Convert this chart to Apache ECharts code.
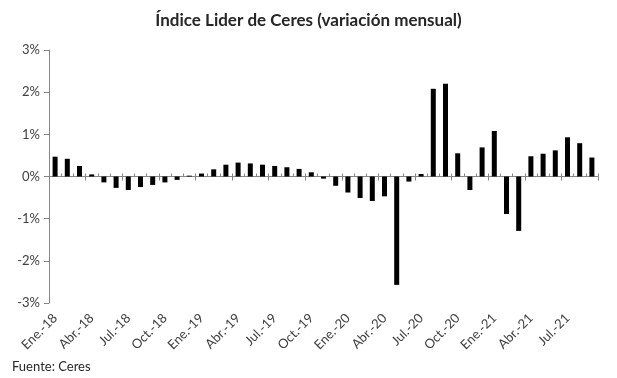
<!DOCTYPE html>
<html>
<head>
<meta charset="utf-8">
<script src="https://cdn.jsdelivr.net/npm/echarts@6/dist/echarts.min.js"></script>
<style>
  html, body { margin: 0; padding: 0; background: #fff; }
  #chart { width: 617px; height: 378px; }
</style>
</head>
<body>
<div id="chart"></div>
<script>
// meses Ene.-18 .. Sep.-21
var meses = ['Ene.', 'Feb.', 'Mar.', 'Abr.', 'May.', 'Jun.', 'Jul.', 'Ago.', 'Sep.', 'Oct.', 'Nov.', 'Dic.'];
var anios = ['18', '19', '20', '21'];
var categorias = [];
anios.forEach(function (a) {
  meses.forEach(function (m) { categorias.push(m + '-' + a); });
});
categorias = categorias.slice(0, 45);

// variación mensual (%)
var valores = [
  0.47, 0.42, 0.25, 0.05, -0.14, -0.27, -0.32, -0.25, -0.20, -0.14, -0.08, 0.02,
  0.07, 0.17, 0.28, 0.33, 0.31, 0.28, 0.25, 0.22, 0.18, 0.10, -0.05, -0.22,
  -0.38, -0.51, -0.58, -0.47, -2.57, -0.12, 0.06, 2.08, 2.20, 0.55, -0.32, 0.69,
  1.08, -0.89, -1.29, 0.48, 0.54, 0.62, 0.93, 0.79, 0.45
];

var ticksY = [-3, -2, -1, 0, 1, 2, 3];

var fuente = 'Lato, "Noto Sans", sans-serif';
var gris = '#868686';

var myChart = echarts.init(document.getElementById('chart'));
var option = {
  animation: false,
  textStyle: { fontFamily: fuente },
  title: {
    text: 'Índice Lider de Ceres (variación mensual)',
    left: 'center',
    top: 7,
    textStyle: { fontSize: 17, fontWeight: 'bold', color: '#262626', fontFamily: fuente }
  },
  graphic: [{
    type: 'text',
    left: 12,
    top: 360,
    style: { text: 'Fuente: Ceres', fontSize: 13, fill: '#262626', fontFamily: fuente }
  }],
  grid: { left: 49, right: 19, top: 50, bottom: 75 },
  xAxis: [
    {
      type: 'category',
      position: 'bottom',
      data: categorias,
      axisLine: { onZero: true, onZeroAxisIndex: 0, lineStyle: { color: gris, width: 1 } },
      axisTick: { show: true, inside: true, interval: 0, length: 3, lineStyle: { color: gris } },
      axisLabel: { show: false }
    },
    {
      type: 'category',
      position: 'bottom',
      data: categorias,
      axisLine: { show: false, onZero: true, onZeroAxisIndex: 0 },
      axisTick: { show: true, inside: false, interval: 2, length: 4, lineStyle: { color: gris } },
      axisLabel: { show: false }
    },
    {
      type: 'category',
      position: 'bottom',
      data: categorias,
      axisLine: { show: false, onZero: false },
      axisTick: { show: false },
      axisLabel: {
        interval: 2,
        rotate: 45,
        margin: 13,
        fontSize: 13,
        color: '#404040',
        fontFamily: fuente
      }
    }
  ],
  yAxis: {
    type: 'value',
    min: ticksY[0],
    max: ticksY[ticksY.length - 1],
    interval: 1,
    axisLine: { show: true, lineStyle: { color: gris } },
    axisTick: { show: true, length: 5, lineStyle: { color: gris } },
    splitLine: { show: false },
    axisLabel: {
      margin: 9,
      fontSize: 13,
      color: '#404040',
      formatter: function (v) { return v + '%'; }
    }
  },
  series: [{
    type: 'bar',
    xAxisIndex: 0,
    data: valores,
    barWidth: 5,
    itemStyle: { color: '#000' }
  }]
};
myChart.setOption(option);
</script>
</body>
</html>
